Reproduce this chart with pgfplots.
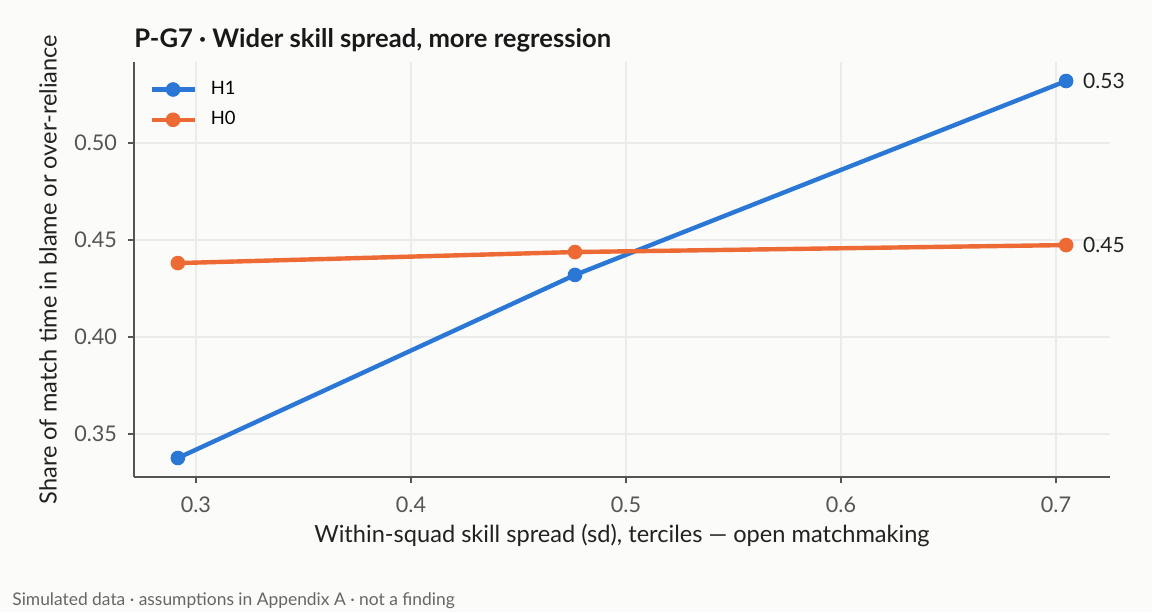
\documentclass[border=0pt]{standalone}
\usepackage{fontspec}
\setmainfont{Lato}
\usepackage{pgfplots}
\pgfplotsset{compat=1.18}

\definecolor{bg}{HTML}{FBFBF9}
\definecolor{hone}{HTML}{2A77D6}
\definecolor{hzero}{HTML}{EE6A35}
\definecolor{gridc}{HTML}{EBEBEB}
\definecolor{spine}{HTML}{555555}
\definecolor{tickc}{HTML}{555555}
\definecolor{labc}{HTML}{222222}
\definecolor{footc}{HTML}{666666}

\begin{document}
\begin{tikzpicture}
\path[use as bounding box, fill=bg] (0,0) rectangle (576pt,306pt);

\begin{axis}[
  at={(67pt,67.5pt)}, anchor=south west,
  scale only axis, width=488pt, height=207.5pt,
  xmin=0.2712, xmax=0.7251, ymin=0.3278, ymax=0.5418,
  clip=false,
  axis x line*=bottom, axis y line*=left,
  axis line style={-, spine, line width=0.9pt},
  tick align=outside, major tick length=3pt,
  tick style={spine, line width=0.9pt},
  xtick={0.3,0.4,0.5,0.6,0.7}, ytick={0.35,0.40,0.45,0.50},
  xticklabel style={yshift=-3.5pt, /pgf/number format/.cd, fixed, fixed zerofill, precision=1},
  yticklabel style={xshift=-2pt, /pgf/number format/.cd, fixed, fixed zerofill, precision=2},
  /pgf/number format/assume math mode=true,
  ticklabel style={font=\fontsize{10.8}{12}\selectfont, text=tickc},
  grid=major, grid style={gridc, line width=0.75pt},
  xlabel={Within-squad skill spread (sd), terciles — open matchmaking},
  ylabel={Share of match time in blame or over-reliance},
  every axis x label/.style={at={(axis description cs:0.5,-0.1398)}, anchor=center,
    font=\fontsize{11.8}{14}\selectfont, text=labc},
  every axis y label/.style={at={(axis description cs:-0.0881,0.5)}, rotate=90, anchor=center,
    font=\fontsize{11.8}{14}\selectfont, text=labc},
  legend style={at={(axis description cs:0,1)}, anchor=north west,
    xshift=4.5pt, yshift=-5.5pt, draw=none, fill=none,
    font=\fontsize{9.2}{11}\selectfont, row sep=3pt, column sep=5pt},
  legend cell align=left,
  legend image code/.code={\draw[mark repeat=2, mark phase=2] plot coordinates {(0pt,0pt) (10.75pt,0pt) (21.5pt,0pt)};},
]
\addplot[hone, line width=2.2pt, mark=*, mark size=3.4pt, mark options={line width=0.5pt}] coordinates {
  (0.2916,0.3376) (0.4763,0.4320) (0.7047,0.5320)};
\addlegendentry{H1}
\addplot[hzero, line width=2.2pt, mark=*, mark size=3.4pt, mark options={line width=0.5pt}] coordinates {
  (0.2916,0.4381) (0.4763,0.4438) (0.7047,0.4474)};
\addlegendentry{H0}
\node[anchor=west, font=\fontsize{10.5}{12}\selectfont, text=labc, xshift=5pt] at (axis cs:0.7047,0.5320) {0.53};
\node[anchor=west, font=\fontsize{10.5}{12}\selectfont, text=labc, xshift=5pt] at (axis cs:0.7047,0.4474) {0.45};
\end{axis}

\node[anchor=base west, font=\bfseries\fontsize{12.8}{14}\selectfont, text=black!90, inner sep=0pt] at (67pt,282pt) {P-G7 · Wider skill spread, more regression};
\node[anchor=base west, font=\fontsize{8.7}{10}\selectfont, text=footc, inner sep=0pt] at (6pt,3.5pt) {Simulated data · assumptions in Appendix A · not a finding};
\end{tikzpicture}
\end{document}
